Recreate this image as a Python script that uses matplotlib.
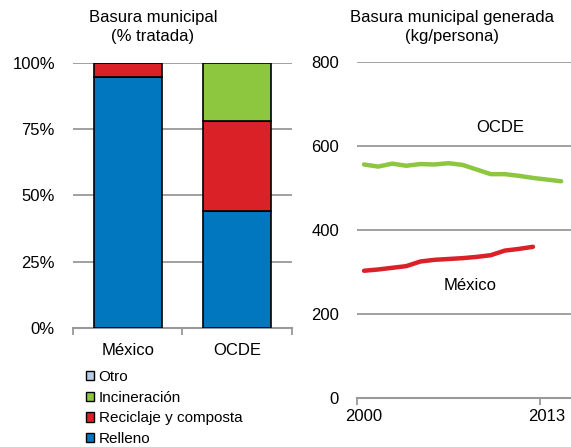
import numpy as np
import matplotlib.pyplot as plt
from matplotlib.patches import Patch

plt.rcParams['font.family'] = ['Liberation Sans', 'DejaVu Sans']

# Datos: basura municipal (% tratada)
paises = ["México", "OCDE"]
relleno = [94.7, 44.0]
reciclaje = [5.3, 34.2]
incineracion = [0.0, 21.8]
otro = [0.0, 0.0]

# Basura municipal generada (kg/persona)
anios_ocde = list(range(2000, 2015))
ocde = [556, 551, 558, 553, 557, 556, 559, 555, 544, 533, 533, 529, 524, 520, 516]
anios_mex = list(range(2000, 2013))
mexico = [303, 306, 310, 314, 325, 329, 331, 333, 336, 340, 351, 355, 360]

c_otro = '#B8CCE4'
c_inc = '#8DC63F'
c_rec = '#DA2128'
c_rel = '#0077BE'
gris = '#999999'
fs = 12

fig = plt.figure(figsize=(5.71, 4.47), dpi=100)

# --- panel izquierdo ---
ax1 = fig.add_axes([0.1278, 0.2669, 0.3836, 0.5915])
x = np.arange(len(paises))
w = 0.62
ax1.bar(x, relleno, w, color=c_rel, edgecolor='black', linewidth=1.2, zorder=3)
ax1.bar(x, reciclaje, w, bottom=relleno, color=c_rec, edgecolor='black', linewidth=1.2, zorder=3)
b2 = np.array(relleno) + np.array(reciclaje)
ax1.bar(x, incineracion, w, bottom=b2, color=c_inc, edgecolor='black', linewidth=1.2, zorder=3)
ax1.set_xlim(-0.5, 1.5)
ax1.set_ylim(0, 100)
ax1.set_yticks([0, 25, 50, 75, 100])
ax1.set_yticklabels(['0%', '25%', '50%', '75%', '100%'])
ax1.yaxis.grid(True, color=gris, linewidth=1.3, zorder=0)
ax1.set_axisbelow(True)
ax1.tick_params(axis='y', length=0, pad=13, labelsize=fs)
ax1.set_xticks(x)
ax1.set_xticklabels(paises)
ax1.set_xticks([-0.5, 0.5, 1.5], minor=True)
ax1.tick_params(axis='x', which='major', length=0, pad=11, labelsize=fs)
ax1.tick_params(axis='x', which='minor', length=5, width=1.3, color=gris)
for s in ['top', 'right', 'left']:
    ax1.spines[s].set_visible(False)
ax1.spines['bottom'].set_color(gris)
ax1.spines['bottom'].set_linewidth(1.5)
fig.text(0.268, 0.978, "Basura municipal\n(% tratada)", ha='center', va='top',
         fontsize=fs, linespacing=1.35)

handles = [Patch(facecolor=c_otro, edgecolor='black', label='Otro'),
           Patch(facecolor=c_inc, edgecolor='black', label='Incineración'),
           Patch(facecolor=c_rec, edgecolor='black', label='Reciclaje y composta'),
           Patch(facecolor=c_rel, edgecolor='black', label='Relleno')]
fig.legend(handles=handles, loc='upper left', bbox_to_anchor=(0.15, 0.173),
           frameon=False, fontsize=11, handlelength=0.55, handleheight=0.55,
           handletextpad=0.3, labelspacing=0.45, borderaxespad=0, borderpad=0)

# --- panel derecho ---
ax2 = fig.add_axes([0.6252, 0.1096, 0.3748, 0.7517])
ax2.plot(anios_ocde, ocde, color=c_inc, linewidth=3.2, solid_capstyle='round')
ax2.plot(anios_mex, mexico, color=c_rec, linewidth=3.2, solid_capstyle='round')
ax2.set_xlim(1999.5, 2014.7)
ax2.set_ylim(0, 800)
ax2.set_yticks([0, 200, 400, 600, 800])
ax2.yaxis.grid(True, color=gris, linewidth=1.3, zorder=0)
ax2.tick_params(axis='y', length=0, pad=13, labelsize=fs)
ax2.set_xticks([2000, 2013])
ax2.set_xticks([1999.5, 2012.5], minor=True)
ax2.tick_params(axis='x', which='major', length=0, pad=8, labelsize=fs)
ax2.tick_params(axis='x', which='minor', length=5, width=1.3, color=gris)
for s in ['top', 'right', 'left']:
    ax2.spines[s].set_visible(False)
ax2.spines['bottom'].set_color(gris)
ax2.spines['bottom'].set_linewidth(1.5)
ax2.text(2009.7, 643, "OCDE", ha='center', va='center', fontsize=fs)
ax2.text(2007.5, 269, "México", ha='center', va='center', fontsize=fs)
fig.text(0.792, 0.978, "Basura municipal generada\n(kg/persona)", ha='center', va='top',
         fontsize=fs, linespacing=1.35)

fig.savefig('out.png', dpi=100)
